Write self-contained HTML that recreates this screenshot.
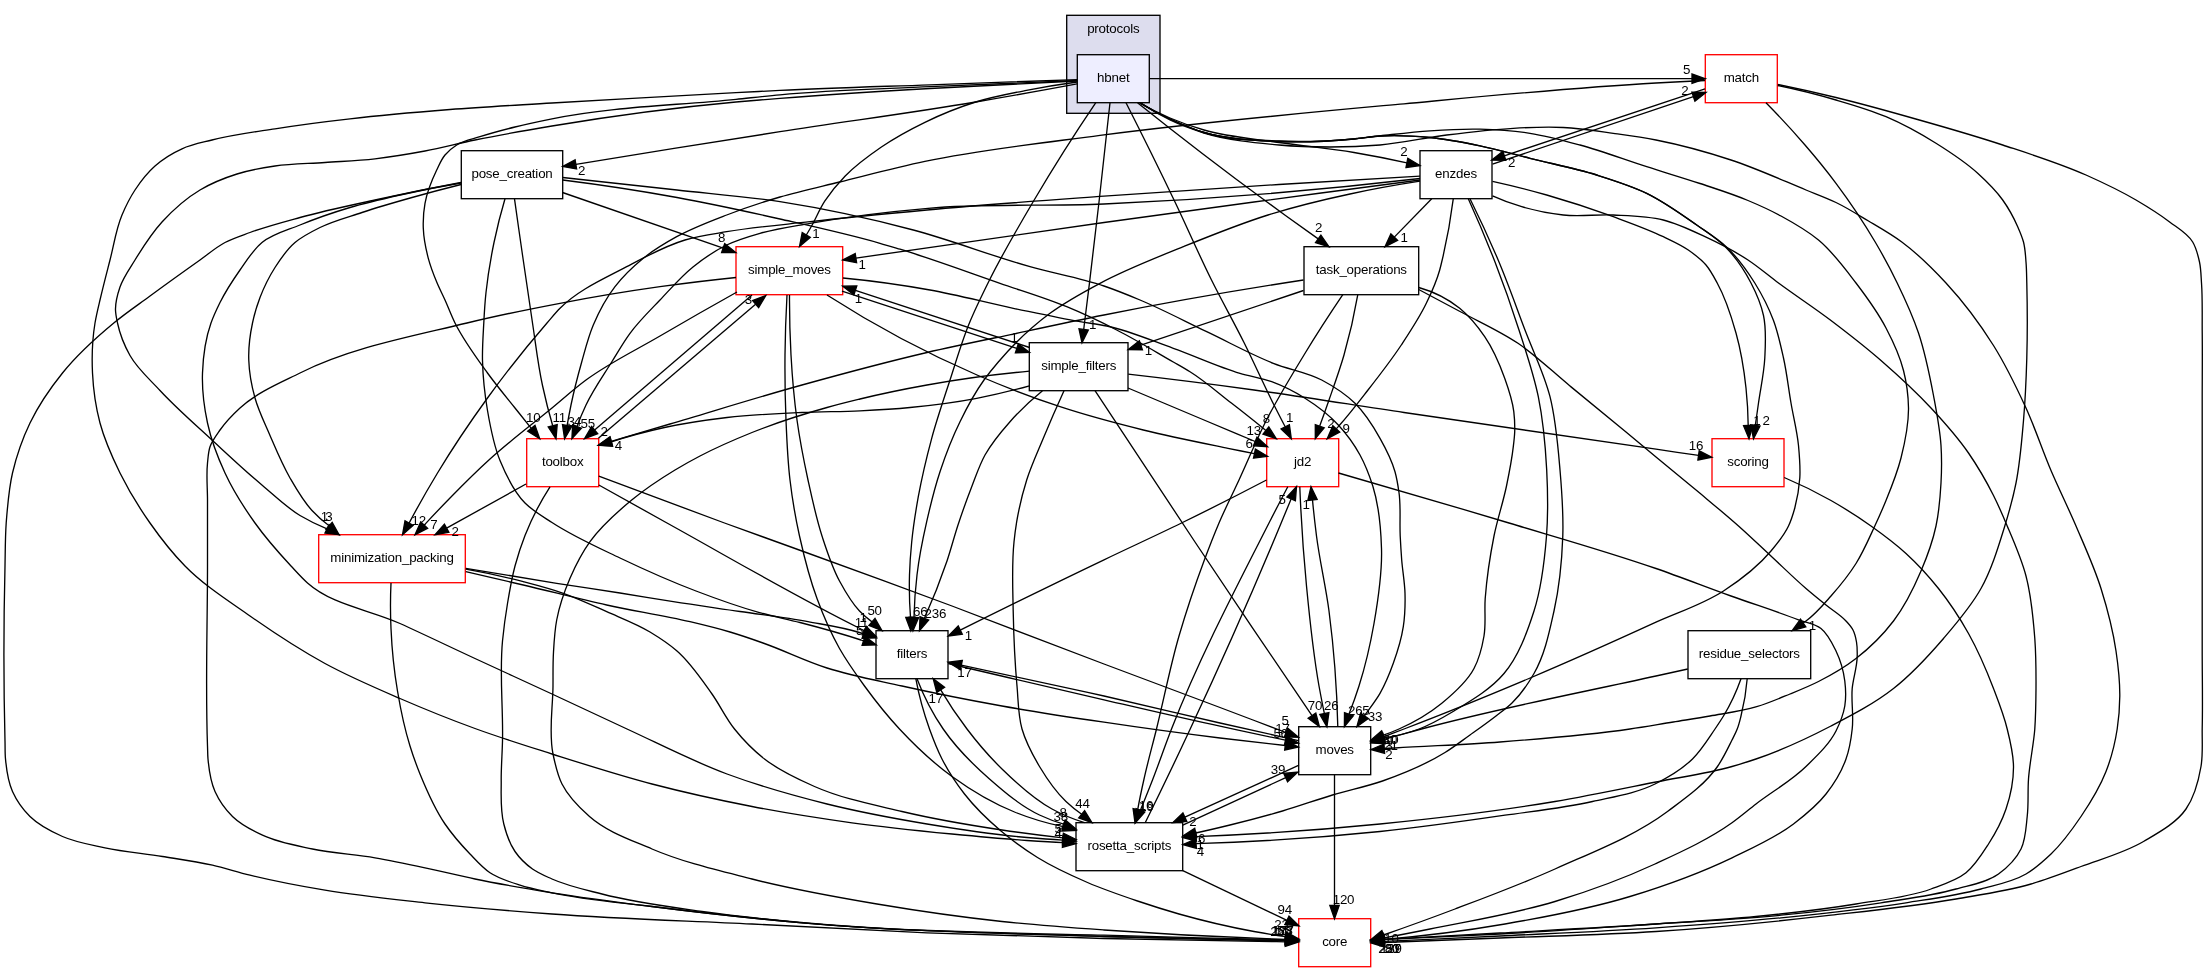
<!DOCTYPE html>
<html><head><meta charset="utf-8"><title>protocols/hbnet directory dependency graph</title>
<style>
html,body{margin:0;padding:0;background:#fff;}
body{width:2208px;height:972px;overflow:hidden;}
svg{display:block;will-change:transform;}
.t{font-family:"Liberation Sans",sans-serif;font-size:13.33px;letter-spacing:-0.2px;text-anchor:middle;fill:#000;}
</style></head><body>
<svg width="2208" height="972" viewBox="0 0 2208 972">
<rect x="1066.7" y="15.3" width="93.3" height="98.0" fill="#ddddee" stroke="black" stroke-width="1.33"/>
<text x="1113.3" y="33.3" class="t">protocols</text>
<rect x="1077.3" y="54.7" width="72.0" height="48.0" fill="#eeeeff" stroke="black" stroke-width="1.33"/>
<text x="1113.3" y="82.0" class="t">hbnet</text>
<rect x="1705.3" y="54.7" width="72.0" height="48.0" fill="white" stroke="red" stroke-width="1.33"/>
<text x="1741.3" y="82.0" class="t">match</text>
<rect x="461.3" y="150.7" width="101.4" height="48.0" fill="white" stroke="black" stroke-width="1.33"/>
<text x="512.0" y="178.0" class="t">pose_creation</text>
<rect x="1420.0" y="150.7" width="72.0" height="48.0" fill="white" stroke="black" stroke-width="1.33"/>
<text x="1456.0" y="178.0" class="t">enzdes</text>
<rect x="736.0" y="246.7" width="106.7" height="48.0" fill="white" stroke="red" stroke-width="1.33"/>
<text x="789.4" y="274.0" class="t">simple_moves</text>
<rect x="1304.0" y="246.7" width="114.7" height="48.0" fill="white" stroke="black" stroke-width="1.33"/>
<text x="1361.3" y="274.0" class="t">task_operations</text>
<rect x="1029.3" y="342.7" width="98.7" height="48.0" fill="white" stroke="black" stroke-width="1.33"/>
<text x="1078.7" y="370.0" class="t">simple_filters</text>
<rect x="526.7" y="438.7" width="72.0" height="48.0" fill="white" stroke="red" stroke-width="1.33"/>
<text x="562.7" y="466.0" class="t">toolbox</text>
<rect x="1266.7" y="438.7" width="72.0" height="48.0" fill="white" stroke="red" stroke-width="1.33"/>
<text x="1302.7" y="466.0" class="t">jd2</text>
<rect x="1712.0" y="438.7" width="72.0" height="48.0" fill="white" stroke="red" stroke-width="1.33"/>
<text x="1748.0" y="466.0" class="t">scoring</text>
<rect x="318.7" y="534.7" width="146.6" height="48.0" fill="white" stroke="red" stroke-width="1.33"/>
<text x="392.0" y="562.0" class="t">minimization_packing</text>
<rect x="876.0" y="630.7" width="72.0" height="48.0" fill="white" stroke="black" stroke-width="1.33"/>
<text x="912.0" y="658.0" class="t">filters</text>
<rect x="1688.0" y="630.7" width="122.7" height="48.0" fill="white" stroke="black" stroke-width="1.33"/>
<text x="1749.3" y="658.0" class="t">residue_selectors</text>
<rect x="1298.7" y="726.7" width="72.0" height="48.0" fill="white" stroke="black" stroke-width="1.33"/>
<text x="1334.7" y="754.0" class="t">moves</text>
<rect x="1076.0" y="822.7" width="106.7" height="48.0" fill="white" stroke="black" stroke-width="1.33"/>
<text x="1129.3" y="850.0" class="t">rosetta_scripts</text>
<rect x="1298.7" y="918.7" width="72.0" height="48.0" fill="white" stroke="red" stroke-width="1.33"/>
<text x="1334.7" y="946.0" class="t">core</text>
<g fill="none" stroke="black" stroke-width="1.33">
<path d="M1077.0,79.6C1028.0,81.3 979.0,83.0 930.0,84.8C880.0,86.6 830.0,88.0 780.0,90.4C765.3,91.1 750.7,91.9 736.0,92.7C674.7,96.0 613.3,99.3 552.0,103.0C518.0,105.1 484.0,106.8 450.0,109.5C416.6,112.1 383.2,114.9 350.0,118.8C325.0,121.6 299.9,124.8 275.0,128.8C253.9,132.1 232.6,134.8 212.0,140.0C201.9,142.6 191.4,144.5 182.0,148.8C172.4,153.1 162.9,159.0 155.0,166.0C147.3,172.8 140.7,181.3 135.0,190.0C129.9,197.8 125.6,206.4 122.0,215.0C116.0,229.2 113.9,245.0 110.0,260.0C106.6,273.3 103.1,286.6 100.0,300.0C98.2,307.6 96.3,315.3 95.0,323.0C92.3,339.4 91.7,356.4 92.5,373.0C93.3,389.7 95.7,406.8 100.0,423.0C104.6,440.2 112.1,456.9 120.0,473.0C128.6,490.4 138.8,507.1 150.0,523.0C160.6,538.1 172.1,552.9 185.0,566.0C204.0,585.4 227.6,600.3 250.0,616.0C274.2,633.0 299.1,649.4 325.0,663.5C349.2,676.7 374.7,687.6 400.0,698.5C424.7,709.2 449.7,719.3 475.0,728.5C500.4,737.8 526.2,745.8 552.0,754.0C585.2,764.5 618.4,775.2 652.0,784.0C685.0,792.6 718.5,800.0 752.0,806.5C785.1,812.9 818.6,818.2 852.0,822.8C885.2,827.3 918.6,830.7 952.0,834.0C977.0,836.4 1002.0,838.8 1027.0,840.5C1038.9,841.3 1050.8,842.1 1062.7,842.7"/>
<path d="M1077.0,81.0C1028.0,83.1 979.0,85.6 930.0,88.5C880.0,91.4 830.0,94.5 780.0,98.4C765.3,99.5 750.7,100.7 736.0,102.0C674.4,107.6 613.0,115.8 552.0,126.0C526.3,130.3 500.6,134.8 475.0,140.0C458.3,143.4 441.8,147.9 425.0,151.0C408.4,154.1 391.7,156.8 375.0,158.8C358.4,160.7 341.7,161.3 325.0,162.5C308.3,163.7 291.5,163.6 275.0,166.0C262.2,167.9 249.3,170.1 237.0,174.0C224.3,178.0 211.4,183.2 200.0,190.0C185.9,198.4 173.1,209.9 162.0,222.0C151.6,233.4 143.1,246.8 135.0,260.0C129.6,268.8 123.3,277.4 120.0,287.0C117.5,294.3 115.3,302.3 115.5,310.0C115.6,314.3 116.6,318.7 117.5,323.0C119.9,334.3 124.4,345.5 130.0,355.5C137.4,368.7 149.6,379.2 160.0,390.5C176.4,408.2 194.8,424.1 212.5,440.5C229.0,455.7 245.3,471.1 262.5,485.5C274.7,495.8 286.4,507.3 300.0,515.5C308.6,520.6 317.6,525.1 327.0,528.8"/>
<path d="M1077.0,80.5C1028.0,82.3 979.0,84.3 930.0,86.7C880.0,89.1 829.9,90.3 780.0,94.8C765.3,96.1 750.7,97.8 736.0,99.3C674.6,105.6 612.4,106.5 552.0,118.8C539.6,121.3 527.3,123.9 515.0,127.0C503.3,129.9 491.5,133.0 480.0,136.7C472.2,139.2 463.5,140.6 456.7,145.0C452.4,147.7 448.2,151.1 445.0,155.0C441.4,159.3 439.2,164.9 436.7,170.0C431.6,180.6 427.1,191.8 425.0,203.3C423.5,211.4 423.0,220.0 423.3,228.3C423.7,238.4 425.7,248.5 428.3,258.3C430.5,266.4 433.5,274.3 436.7,282.0C439.2,288.1 442.3,294.0 445.0,300.0C448.4,307.6 451.3,315.5 455.0,323.0C463.8,340.8 475.8,356.9 487.5,373.0C496.2,385.0 505.7,396.4 515.0,408.0C520.4,414.8 525.9,421.6 531.3,428.3"/>
<path d="M1077.0,83.9C1043.3,90.2 1009.5,96.3 975.7,102.0C910.7,113.0 845.2,121.5 780.0,131.7C711.9,142.3 643.9,153.2 575.9,164.4"/>
<path d="M1077.0,82.0C1060.0,84.3 1043.2,87.1 1026.4,90.4C1009.4,93.7 992.2,96.9 975.7,102.0C958.3,107.4 941.3,114.4 924.9,122.3C909.9,129.6 895.1,137.6 881.4,147.0C868.7,155.7 855.9,165.0 845.2,176.0C837.8,183.6 830.8,192.0 824.9,200.9C819.5,209.1 815.9,218.5 811.0,227.0C809.5,229.7 807.9,232.4 806.3,235.0"/>
<path d="M1095.8,102.7C1073.8,135.2 1052.9,168.3 1033.0,202.0C1017.9,227.6 1002.8,253.4 989.5,280.0C982.3,294.5 975.1,309.0 969.0,324.0C961.6,342.2 956.1,361.3 950.0,380.0C943.7,399.4 937.0,418.7 931.7,438.3C926.5,457.6 921.9,477.1 918.3,496.7C915.6,511.7 913.2,526.8 911.7,542.0C910.6,553.0 909.8,564.0 909.5,575.0C909.1,589.1 909.4,603.2 910.5,617.4"/>
<path d="M1110.0,102.7C1106.5,135.8 1102.8,168.9 1099.0,202.0C1094.4,242.4 1089.6,282.7 1084.5,323.0C1084.2,325.2 1084.0,327.3 1083.7,329.5"/>
<path d="M1126.0,102.7C1142.7,135.6 1159.1,168.7 1175.0,202.0C1187.4,227.9 1198.7,254.3 1211.5,280.0C1221.9,301.0 1233.5,321.5 1244.0,342.5C1254.3,363.2 1263.6,384.4 1274.0,405.0C1277.7,412.3 1281.4,419.6 1285.2,426.8"/>
<path d="M1137.5,102.7C1180.0,136.7 1223.1,169.8 1267.0,202.0C1284.0,214.4 1301.0,226.7 1318.2,238.9"/>
<path d="M1149.3,78.7L1692.0,78.7"/>
<path d="M1139.0,102.5C1149.1,108.3 1159.4,113.5 1170.0,118.0C1181.0,122.7 1192.5,126.7 1204.0,130.0C1228.3,137.1 1253.9,138.7 1279.0,142.5C1303.9,146.2 1329.1,148.3 1354.0,152.5C1371.7,155.5 1389.4,159.0 1406.9,162.9"/>
<path d="M1141.0,103.0C1150.3,109.5 1159.9,115.1 1170.0,120.0C1180.9,125.3 1192.5,129.4 1204.0,133.0C1228.1,140.4 1253.8,142.8 1279.0,145.0C1295.9,146.5 1313.0,147.0 1330.0,147.0C1346.7,147.0 1363.4,146.4 1380.0,145.0C1402.4,143.1 1424.4,137.8 1446.7,135.0C1468.8,132.2 1491.0,129.5 1513.3,128.3C1529.9,127.4 1546.7,126.7 1563.3,127.5C1580.0,128.3 1596.7,131.0 1613.3,133.3C1627.6,135.3 1641.9,137.2 1656.0,140.0C1681.4,145.0 1706.5,151.9 1731.0,160.0C1756.5,168.4 1781.1,179.7 1806.0,190.0C1816.0,194.1 1826.3,197.8 1836.0,202.5C1847.2,207.9 1857.8,214.6 1868.5,221.0C1879.8,227.7 1891.3,234.2 1901.8,242.0C1917.9,253.9 1932.4,268.3 1946.0,283.0C1963.7,302.1 1979.6,323.4 1993.5,345.5C2005.9,365.3 2016.2,386.7 2026.0,408.0C2035.3,428.4 2042.2,449.9 2051.0,470.5C2059.0,489.2 2068.0,507.3 2076.0,526.0C2084.8,546.6 2094.3,567.2 2101.0,588.5C2107.4,608.9 2112.9,629.9 2116.0,651.0C2118.2,665.8 2119.9,681.0 2119.8,696.0C2119.7,707.0 2118.9,718.1 2117.2,729.0C2115.0,743.4 2111.3,758.0 2106.0,771.5C2099.8,787.4 2090.6,802.3 2081.0,816.5C2072.1,829.7 2062.5,843.0 2051.0,854.0C2043.3,861.3 2035.1,868.7 2026.0,874.0C2012.6,881.9 1996.2,884.8 1981.0,889.0C1956.5,895.7 1931.1,898.8 1906.0,902.8C1864.6,909.3 1822.7,913.6 1781.0,917.8C1739.4,921.9 1697.7,924.9 1656.0,927.8C1604.1,931.3 1552.0,933.4 1500.0,936.0C1461.4,937.9 1422.9,939.7 1384.3,941.4"/>
<path d="M1140.0,103.0C1149.7,108.9 1159.7,114.2 1170.0,119.0C1181.0,124.1 1192.4,129.0 1204.0,132.5C1227.9,139.7 1253.9,140.0 1279.0,141.0C1303.9,142.0 1329.1,141.0 1354.0,138.8C1362.7,138.0 1371.3,136.7 1380.0,135.8C1396.7,134.0 1413.3,131.9 1430.0,130.8C1446.6,129.7 1463.4,128.8 1480.0,129.2C1496.7,129.6 1513.5,130.7 1530.0,133.3C1546.9,135.9 1563.5,140.5 1580.0,145.0C1602.5,151.1 1624.4,159.6 1646.7,166.7C1664.4,172.4 1682.3,177.6 1700.0,183.5C1716.1,188.9 1732.4,193.9 1748.0,200.5C1759.2,205.2 1770.3,210.2 1781.0,216.0C1794.0,223.1 1807.2,230.6 1818.5,240.0C1833.0,252.0 1844.5,267.9 1856.0,283.0C1866.9,297.3 1877.7,312.1 1886.0,328.0C1893.1,341.5 1899.8,355.8 1903.5,370.5C1906.6,382.6 1908.3,395.5 1908.5,408.0C1908.7,424.7 1905.1,441.7 1901.0,458.0C1897.3,472.5 1891.7,486.6 1886.0,500.5C1882.5,509.1 1878.7,517.6 1874.8,526.0C1868.9,538.7 1863.4,551.7 1856.0,563.5C1848.8,575.0 1840.0,585.8 1831.0,596.0C1823.2,604.8 1815.5,614.1 1806.0,621.0C1805.1,621.7 1804.1,622.4 1803.1,623.0"/>
<path d="M1140.0,103.0C1149.7,108.9 1159.7,114.2 1170.0,119.0C1181.0,124.1 1192.4,129.0 1204.0,132.5C1227.9,139.7 1253.9,140.4 1279.0,141.5C1303.9,142.6 1329.1,141.3 1354.0,139.0C1362.7,138.2 1371.3,136.6 1380.0,136.0C1396.6,134.9 1413.4,135.9 1430.0,137.5C1446.8,139.1 1463.5,142.4 1480.0,145.8C1496.8,149.3 1513.3,154.1 1530.0,158.3C1552.2,163.9 1574.9,168.1 1596.7,175.0C1613.6,180.3 1630.8,185.6 1646.7,193.3C1664.3,201.9 1680.7,213.5 1696.7,225.0C1706.7,232.2 1717.5,238.8 1726.0,247.5C1736.0,257.7 1744.4,270.2 1751.0,283.0C1756.3,293.2 1761.1,304.3 1763.5,315.5C1766.5,329.2 1765.5,343.9 1764.8,358.0C1764.0,373.1 1760.6,388.0 1758.5,403.0C1757.5,410.5 1756.4,418.0 1755.3,425.5"/>
<path d="M1140.0,103.0C1149.7,108.9 1159.7,114.2 1170.0,119.0C1181.0,124.1 1192.4,129.0 1204.0,132.5C1227.9,139.7 1253.9,140.4 1279.0,141.5C1303.9,142.6 1329.1,141.3 1354.0,139.0C1362.7,138.2 1371.3,136.6 1380.0,136.0C1396.6,134.9 1413.4,135.9 1430.0,137.5C1446.8,139.1 1463.5,142.4 1480.0,145.8C1496.8,149.3 1513.3,154.1 1530.0,158.3C1552.2,163.9 1574.9,168.1 1596.7,175.0C1613.6,180.3 1630.8,185.6 1646.7,193.3C1664.3,201.9 1680.5,213.7 1696.7,225.0C1707.0,232.2 1718.0,238.9 1727.0,247.5C1737.8,257.8 1746.8,270.3 1754.8,283.0C1762.1,294.8 1768.6,307.5 1773.5,320.5C1778.0,332.6 1780.7,345.4 1783.5,358.0C1786.8,372.8 1788.4,388.0 1791.0,403.0C1793.4,417.2 1797.1,431.2 1798.5,445.5C1799.5,456.3 1800.5,467.2 1799.8,478.0C1799.1,488.1 1797.4,498.3 1794.8,508.0C1793.1,514.1 1791.2,520.3 1788.5,526.0C1784.2,535.1 1777.5,543.3 1771.0,551.0C1757.8,566.8 1740.7,579.8 1723.5,591.0C1702.9,604.4 1678.6,612.0 1656.0,622.2C1613.9,641.5 1571.6,660.5 1529.0,678.5C1487.6,696.0 1446.0,713.0 1404.0,729.0C1397.2,731.6 1390.3,734.2 1383.5,736.8"/>
<path d="M1705.0,80.5C1688.7,81.3 1672.3,82.1 1656.0,83.0C1571.9,87.7 1487.9,96.0 1404.0,103.8C1302.6,113.1 1201.0,122.1 1100.0,135.4C1041.5,143.1 982.6,149.3 924.9,161.4C896.3,167.4 867.9,175.0 839.5,182.0C819.6,186.9 799.6,191.2 780.0,197.0C762.0,202.3 744.2,208.3 726.7,215.0C709.8,221.5 692.6,227.9 676.7,236.7C665.1,243.1 653.5,250.0 643.3,258.3C633.0,266.7 623.1,276.2 615.0,286.7C606.1,298.2 599.0,311.6 593.3,325.0C588.3,336.8 585.2,349.6 581.7,362.0C577.7,376.2 574.0,390.5 571.0,405.0C569.6,411.8 568.3,418.7 567.1,425.6"/>
<path d="M1705.0,88.8L1504.3,155.8"/>
<path d="M1777.8,85.5C1797.4,89.5 1816.8,94.4 1836.0,100.0C1852.8,104.9 1869.9,109.8 1886.0,116.7C1903.3,124.1 1920.0,133.3 1936.0,143.3C1950.5,152.4 1965.1,161.8 1977.7,173.3C1986.7,181.5 1995.7,190.2 2002.7,200.0C2008.6,208.2 2013.6,217.4 2017.7,226.7C2019.9,231.7 2022.1,236.8 2023.5,242.0C2025.2,248.5 2025.5,255.3 2026.0,262.0C2026.6,269.0 2026.6,276.0 2026.8,283.0C2027.4,308.0 2027.5,333.0 2026.8,358.0C2026.2,378.8 2025.3,399.7 2023.5,420.5C2021.7,441.4 2020.1,462.5 2016.0,483.0C2013.1,497.5 2009.1,511.9 2004.8,526.0C1998.2,547.3 1991.7,569.2 1981.0,588.5C1971.0,606.5 1957.0,622.7 1943.5,638.5C1928.2,656.3 1911.9,674.1 1893.5,688.5C1874.5,703.4 1852.5,714.8 1831.0,726.0C1806.8,738.6 1781.8,750.2 1756.0,759.0C1748.1,761.7 1740.1,764.2 1732.0,766.5C1707.2,773.6 1681.4,776.9 1656.0,782.0C1622.4,788.7 1588.8,795.8 1555.0,801.5C1497.0,811.3 1438.5,818.2 1380.0,824.0C1318.9,830.1 1257.5,834.3 1196.0,836.6"/>
<path d="M1777.8,84.5C1797.3,88.5 1816.7,92.8 1836.0,97.5C1863.9,104.3 1891.6,112.1 1919.3,120.0C1947.2,127.9 1975.1,135.9 2002.7,145.0C2030.7,154.2 2059.1,163.0 2086.0,175.0C2103.0,182.6 2119.9,190.6 2136.0,200.0C2147.4,206.7 2158.8,213.7 2169.3,221.7C2177.5,228.0 2187.6,233.4 2192.7,242.0C2196.2,247.8 2198.0,255.2 2199.5,262.0C2201.0,268.8 2201.0,276.0 2201.5,283.0C2202.6,298.6 2202.1,314.3 2202.2,330.0C2202.5,353.3 2202.2,376.7 2202.2,400.0C2202.2,442.0 2202.2,484.0 2202.2,526.0C2202.2,567.3 2202.2,608.7 2202.2,650.0C2202.2,676.3 2202.8,702.7 2202.2,729.0C2202.0,741.5 2203.1,754.3 2201.0,766.5C2198.5,781.1 2194.2,797.1 2186.0,809.0C2176.3,823.1 2158.7,832.5 2143.5,841.5C2124.3,852.8 2102.0,858.7 2081.0,866.5C2064.5,872.7 2047.9,879.1 2031.0,884.0C2006.6,891.0 1981.1,894.6 1956.0,899.0C1914.6,906.2 1872.7,910.5 1831.0,915.2C1772.8,921.9 1714.4,927.7 1656.0,931.5C1604.1,934.9 1552.0,935.9 1500.0,938.0C1461.4,939.5 1422.9,941.0 1384.3,942.5"/>
<path d="M1766.0,102.7C1779.5,116.4 1792.5,130.5 1805.0,145.0C1815.7,157.4 1826.2,170.2 1836.0,183.3C1850.1,202.1 1863.3,221.7 1875.2,242.0C1883.1,255.4 1890.5,269.0 1897.2,283.0C1905.1,299.3 1912.7,315.9 1918.5,333.0C1925.3,353.2 1929.5,374.5 1933.5,395.5C1936.6,412.0 1939.9,428.7 1941.0,445.5C1941.8,457.9 1941.7,470.5 1941.0,483.0C1940.2,497.4 1939.0,512.0 1936.0,526.0C1932.7,541.4 1927.2,556.5 1921.0,571.0C1913.6,588.4 1904.9,606.0 1893.5,621.0C1882.9,634.9 1869.9,647.8 1856.0,658.5C1844.5,667.4 1831.5,674.9 1818.5,681.5C1809.3,686.2 1799.6,690.1 1790.0,694.0C1779.0,698.5 1768.0,703.3 1756.7,706.7C1741.6,711.3 1725.6,713.2 1710.0,716.0C1697.8,718.2 1685.5,720.0 1673.3,722.0C1658.9,724.3 1644.5,726.9 1630.0,729.0C1586.9,735.3 1543.4,738.7 1500.0,742.0C1465.1,744.7 1430.0,745.8 1395.0,748.0C1391.4,748.2 1387.9,748.4 1384.3,748.7"/>
<path d="M1492.5,164.2L1693.4,96.7"/>
<path d="M1420.0,176.2C1314.6,182.0 1209.3,188.6 1104.0,196.2C1045.0,200.5 985.9,204.6 927.0,210.0C888.0,213.6 849.0,217.3 810.0,221.7C782.2,224.8 754.2,227.0 726.7,231.7C712.7,234.1 698.5,236.0 685.0,240.0C664.6,246.1 645.6,256.7 626.7,266.7C603.6,278.9 578.3,289.8 560.0,308.3C555.4,312.9 551.3,318.1 547.0,323.0C526.1,347.1 506.2,372.2 487.5,398.0C469.9,422.3 453.0,447.3 437.5,473.0C427.6,489.4 418.1,506.1 409.1,523.1"/>
<path d="M1420.0,178.5C1314.9,190.8 1209.5,199.3 1104.0,204.0C1045.4,206.6 986.4,203.3 928.0,208.3C888.5,211.7 849.0,216.4 810.0,223.3C793.3,226.3 776.3,228.6 760.0,233.3C748.7,236.5 737.2,239.9 726.7,245.0C714.8,250.7 703.6,258.5 693.3,266.7C681.1,276.4 670.8,288.6 660.0,300.0C649.7,310.8 638.9,321.3 630.0,333.3C623.3,342.4 617.7,352.4 611.7,362.0C602.9,376.2 593.1,389.9 586.0,405.0C582.7,412.0 579.7,419.1 577.0,426.4"/>
<path d="M1420.0,180.0C1364.7,187.2 1309.3,194.5 1254.0,202.0C1204.0,208.7 1154.0,215.5 1104.0,222.5C1021.2,234.0 938.5,245.9 855.9,258.1"/>
<path d="M1420.0,181.2C1396.5,184.8 1373.2,189.0 1350.0,194.0C1322.4,199.9 1294.9,206.6 1268.0,215.0C1239.3,224.0 1211.2,235.4 1183.3,246.7C1155.2,258.1 1126.7,269.0 1100.0,283.3C1082.9,292.4 1065.5,301.8 1050.0,313.3C1031.1,327.3 1013.6,344.0 998.3,362.0C993.3,367.8 988.5,373.8 984.0,380.0C974.7,393.0 967.0,407.3 960.0,421.7C952.1,437.8 945.6,454.7 940.0,471.7C934.6,488.0 930.5,504.9 926.7,521.7C922.7,539.3 919.1,557.1 917.0,575.0C915.3,589.1 914.3,603.2 914.0,617.4"/>
<path d="M1431.7,198.7L1394.3,237.1"/>
<path d="M1453.3,198.7C1450.6,220.1 1446.8,241.2 1441.7,262.0C1441.1,264.7 1440.4,267.4 1439.7,270.0C1436.5,281.5 1431.5,292.6 1426.3,303.3C1419.3,317.9 1410.2,331.5 1401.3,345.0C1391.0,360.5 1379.5,375.3 1368.0,390.0C1358.8,401.8 1349.7,413.8 1339.7,425.0C1338.5,426.3 1337.4,427.6 1336.2,428.8"/>
<path d="M1468.3,198.7C1477.8,219.6 1486.7,240.7 1495.0,262.0C1503.7,284.4 1511.7,307.1 1519.0,330.0C1526.1,352.0 1533.7,374.1 1538.3,396.7C1543.2,420.7 1545.4,445.5 1546.7,470.0C1547.8,491.9 1548.2,514.1 1546.5,536.0C1544.5,561.2 1541.7,587.1 1534.0,611.0C1527.0,632.8 1518.5,656.3 1504.0,673.5C1491.0,689.0 1471.8,700.3 1454.0,711.0C1442.8,717.7 1431.2,724.5 1419.0,729.0C1407.8,733.2 1396.1,736.1 1383.9,737.8"/>
<path d="M1470.0,198.7C1480.3,219.5 1490.0,240.6 1499.0,262.0C1508.4,284.4 1516.4,307.3 1525.0,330.0C1533.4,352.2 1544.2,373.8 1550.0,396.7C1556.0,420.4 1557.9,445.5 1560.0,470.0C1561.9,491.9 1563.5,514.1 1562.8,536.0C1561.9,561.1 1559.5,586.5 1554.0,611.0C1549.3,632.2 1544.8,654.8 1534.0,673.5C1528.0,684.0 1520.7,694.5 1512.0,703.0C1507.1,707.8 1501.4,711.8 1496.0,716.0C1487.5,722.6 1478.7,728.8 1470.0,735.0C1461.7,740.9 1453.6,747.2 1445.0,752.5C1425.6,764.5 1404.0,773.4 1382.5,781.0C1366.2,786.7 1349.1,790.0 1332.5,795.0C1315.7,800.0 1299.3,806.1 1282.5,811.0C1265.1,816.1 1247.6,820.7 1230.0,825.0C1218.6,827.8 1207.2,830.5 1195.7,833.0"/>
<path d="M1492.5,181.3C1510.7,185.3 1528.8,189.9 1546.7,195.0C1569.1,201.4 1591.4,208.7 1613.3,216.7C1630.1,222.9 1647.2,228.9 1663.3,236.7C1671.8,240.8 1680.6,244.6 1688.3,250.0C1694.6,254.4 1701.0,259.2 1706.0,265.0C1710.5,270.3 1713.9,276.8 1717.2,283.0C1725.8,298.5 1731.2,315.9 1736.0,333.0C1741.0,350.9 1744.0,369.5 1746.0,388.0C1747.3,400.4 1748.1,412.9 1748.2,425.4"/>
<path d="M1492.5,195.8C1502.0,200.1 1511.8,203.7 1521.7,206.7C1535.2,210.7 1549.3,213.5 1563.3,215.0C1579.8,216.8 1596.7,214.2 1613.3,215.0C1630.0,215.8 1647.2,215.9 1663.3,220.0C1677.7,223.6 1691.5,230.4 1705.0,236.7C1719.8,243.6 1734.4,251.1 1748.0,260.0C1758.6,267.0 1768.3,275.4 1778.5,283.0C1795.8,295.8 1813.9,307.5 1831.0,320.5C1848.0,333.4 1864.9,346.5 1881.0,360.5C1898.3,375.6 1915.4,391.2 1931.0,408.0C1944.3,422.3 1957.4,437.0 1968.5,453.0C1977.8,466.5 1986.1,480.8 1993.5,495.5C1998.5,505.4 2002.9,515.7 2007.2,526.0C2014.2,542.4 2021.5,558.9 2026.0,576.0C2031.3,596.2 2033.2,617.6 2034.8,638.5C2036.0,655.1 2036.1,671.8 2036.0,688.5C2035.9,702.0 2035.7,715.5 2034.8,729.0C2033.5,745.7 2029.7,762.3 2028.5,779.0C2027.6,791.5 2028.7,804.1 2027.2,816.5C2026.0,827.4 2025.7,839.5 2021.0,849.0C2016.2,858.7 2007.3,867.6 1998.5,874.0C1986.7,882.5 1970.4,884.9 1956.0,889.0C1931.6,896.0 1906.1,898.8 1881.0,902.8C1847.8,908.0 1814.4,911.9 1781.0,915.2C1739.5,919.4 1697.7,921.2 1656.0,924.0C1604.0,927.5 1552.0,931.2 1500.0,934.0C1461.5,936.1 1422.9,937.9 1384.3,939.4"/>
<path d="M461.0,182.5C432.2,187.9 403.6,193.7 375.0,200.0C349.9,205.5 324.8,210.7 300.0,217.5C283.2,222.1 266.3,226.5 250.0,232.5C241.6,235.6 232.9,238.3 225.0,242.5C216.1,247.2 208.3,254.1 200.0,260.0C183.2,271.9 166.6,283.8 150.0,296.0C137.9,304.9 125.3,313.4 113.8,323.0C95.4,338.2 77.4,354.5 62.5,373.0C50.1,388.4 38.6,405.2 30.0,423.0C22.4,438.8 16.5,455.9 12.5,473.0C8.7,489.3 7.5,506.3 6.2,523.0C5.2,537.3 5.3,551.7 5.0,566.0C3.6,624.3 3.5,682.7 5.0,741.0C5.2,747.0 4.9,753.0 5.5,759.0C6.5,770.0 8.1,781.6 12.5,791.5C16.6,800.6 22.9,809.5 30.0,816.5C38.9,825.3 51.0,831.4 62.5,836.5C75.8,842.4 90.7,844.7 105.0,847.8C123.9,851.8 143.4,853.4 162.5,856.5C179.2,859.2 196.0,861.5 212.5,865.2C225.1,868.1 237.4,872.2 250.0,875.2C274.8,881.3 299.9,886.0 325.0,890.2C358.1,895.8 391.6,899.1 425.0,902.8C467.2,907.3 509.6,910.9 552.0,914.0C618.6,918.9 685.3,920.7 752.0,924.0C810.3,926.9 868.6,930.3 927.0,932.8C986.0,935.2 1045.0,937.0 1104.0,938.5C1164.4,940.0 1224.9,941.1 1285.4,941.8"/>
<path d="M461.0,183.0C440.5,186.4 420.2,190.4 400.0,195.0C383.2,198.8 366.4,202.6 350.0,207.5C333.1,212.5 316.3,218.3 300.0,225.0C287.1,230.3 272.5,233.9 262.0,242.5C253.1,249.7 246.8,260.4 240.0,270.0C232.7,280.4 225.7,291.2 220.0,302.5C216.7,309.2 213.5,316.0 211.0,323.0C205.4,338.8 203.1,356.3 202.5,373.0C201.9,389.6 204.0,406.8 207.5,423.0C211.2,440.1 217.6,457.1 225.0,473.0C233.1,490.5 243.7,507.2 255.0,523.0C265.8,538.2 278.3,552.3 291.0,566.0C296.4,571.8 301.7,577.8 307.5,583.0C332.3,605.1 369.3,609.6 400.0,623.5C425.1,634.9 450.0,646.9 475.0,658.5C500.6,670.4 526.4,682.1 552.0,694.0C577.0,705.6 601.9,717.5 627.0,729.0C660.2,744.3 692.8,761.3 727.0,774.0C759.6,786.1 793.3,795.6 827.0,804.0C860.0,812.2 893.5,818.4 927.0,824.0C960.2,829.5 993.5,834.6 1027.0,837.5C1038.9,838.5 1050.8,839.4 1062.7,840.1"/>
<path d="M461.0,184.5C444.6,188.6 428.3,192.9 412.0,197.5C395.3,202.2 378.5,207.0 362.0,212.5C347.9,217.2 333.2,220.9 320.0,227.5C311.3,231.8 302.3,236.3 295.0,242.5C287.0,249.3 280.7,258.6 275.0,267.5C269.0,276.9 264.0,287.1 260.0,297.5C256.9,305.7 254.3,314.4 252.5,323.0C249.9,335.2 248.3,348.1 248.8,360.5C249.2,373.1 251.6,385.9 255.0,398.0C258.6,410.9 264.7,423.1 270.0,435.5C276.2,449.9 282.2,464.5 290.0,478.0C296.5,489.3 303.1,501.0 312.0,510.5C317.2,516.1 322.9,521.2 329.1,525.8"/>
<path d="M505.0,198.8C500.7,213.2 497.1,227.8 494.0,242.5C490.6,259.0 487.8,275.7 486.0,292.5C484.9,302.6 484.3,312.8 483.8,323.0C483.1,335.5 482.2,348.0 482.5,360.5C482.9,377.2 484.7,394.0 487.5,410.5C490.4,427.4 493.5,444.8 500.0,460.5C506.2,475.5 513.7,491.5 525.0,503.0C532.6,510.7 542.7,516.4 552.0,522.5C573.3,536.5 597.0,547.0 620.0,558.0C644.9,569.9 670.2,581.2 696.0,591.0C716.9,599.0 738.0,606.6 759.5,612.6C772.9,616.4 786.6,619.0 800.0,622.5C820.5,627.8 840.9,633.4 861.0,640.0C861.8,640.3 862.7,640.6 863.5,640.8"/>
<path d="M514.5,198.8C517.1,217.5 519.8,236.3 522.5,255.0C525.8,277.7 529.0,300.4 532.5,323.0C535.7,343.9 538.0,364.9 542.5,385.5C545.4,399.0 548.8,412.5 552.7,425.8"/>
<path d="M562.5,192.5L723.2,248.1"/>
<path d="M562.7,180.0C601.0,184.8 639.1,190.6 677.0,197.5C711.5,203.8 745.8,211.3 780.0,219.0C813.5,226.6 847.0,233.9 880.0,243.3C886.7,245.2 893.3,247.2 900.0,249.2C933.7,259.4 966.7,271.8 1000.0,283.3C1022.3,291.0 1045.0,297.7 1066.7,306.7C1083.7,313.7 1100.3,321.6 1116.7,330.0C1136.0,339.8 1154.5,351.2 1173.3,362.0C1178.9,365.2 1184.6,368.3 1190.0,371.7C1204.8,380.9 1217.9,392.6 1231.7,403.3C1243.2,412.2 1254.6,421.3 1265.9,430.4"/>
<path d="M562.7,177.5C600.8,181.6 638.9,185.7 677.0,190.0C711.3,193.8 745.9,196.4 780.0,201.7C824.8,208.7 869.4,218.4 913.3,230.0C952.7,240.5 990.8,255.7 1030.0,266.7C1054.5,273.6 1079.9,277.7 1104.0,286.0C1116.2,290.2 1128.1,295.0 1140.0,300.0C1162.7,309.5 1184.5,321.1 1206.7,331.7C1228.9,342.2 1250.5,354.3 1273.3,363.3C1289.1,369.6 1306.8,372.1 1321.7,380.0C1333.6,386.3 1345.5,394.0 1355.0,403.3C1365.1,413.2 1373.0,425.9 1380.0,438.3C1386.0,448.9 1391.7,460.0 1395.0,471.7C1396.9,478.5 1398.0,485.5 1399.0,492.5C1401.0,506.8 1399.5,521.5 1400.2,536.0C1400.6,544.0 1401.1,552.0 1401.7,560.0C1402.6,571.1 1404.7,582.2 1405.0,593.3C1405.3,604.4 1405.0,615.7 1403.3,626.7C1401.4,639.1 1397.6,651.4 1393.3,663.3C1389.6,673.6 1385.4,683.9 1380.0,693.3C1375.6,700.9 1370.0,707.8 1365.0,715.0C1364.8,715.2 1364.7,715.5 1364.5,715.7"/>
<path d="M736.0,277.5C710.6,280.1 685.3,283.2 660.0,286.7C626.5,291.4 593.2,297.0 560.0,303.3C528.9,309.2 497.8,315.5 467.0,323.0C410.6,336.7 351.8,347.3 300.0,373.0C279.4,383.2 256.9,392.5 240.0,408.0C232.8,414.6 225.7,422.0 220.0,430.0C216.3,435.3 212.1,440.7 210.0,446.7C208.3,451.8 208.1,457.5 207.5,463.0C206.2,475.2 207.5,487.7 207.5,500.0C207.5,522.0 207.5,544.0 207.5,566.0C207.5,626.0 205.3,686.0 207.5,746.0C207.7,750.3 207.6,754.7 208.0,759.0C209.0,770.0 210.6,781.6 215.0,791.5C219.1,800.6 225.4,809.5 232.5,816.5C240.8,824.6 251.9,830.3 262.5,835.2C278.0,842.6 295.6,845.4 312.5,849.0C333.0,853.4 354.3,854.2 375.0,857.8C391.7,860.6 408.4,864.2 425.0,867.8C441.7,871.3 458.3,875.5 475.0,879.0C500.5,884.3 526.3,888.6 552.0,892.8C585.2,898.1 618.6,902.3 652.0,906.5C701.9,912.8 751.9,918.4 802.0,922.8C902.3,931.5 1003.3,933.3 1104.0,936.5C1164.4,938.4 1224.9,939.8 1285.4,940.7"/>
<path d="M737.0,292.0C711.2,306.4 685.5,321.1 660.0,336.0C635.2,350.5 609.0,363.0 586.0,380.0C574.2,388.7 563.3,398.7 552.0,408.0C531.3,425.0 509.8,441.0 490.0,459.0C476.2,471.5 463.0,484.7 450.0,498.0C441.3,506.9 432.7,515.9 424.2,525.1"/>
<path d="M752.0,295.0L594.6,430.0"/>
<path d="M789.5,295.0C789.4,315.0 789.9,335.0 791.0,355.0C792.2,376.7 794.0,398.5 797.0,420.0C799.8,440.1 803.7,460.1 808.0,480.0C812.1,498.8 816.1,517.7 822.0,536.0C827.0,551.3 831.9,566.9 839.5,581.0C845.2,591.5 851.2,602.4 859.5,611.0C863.3,614.9 867.5,618.6 872.0,621.9"/>
<path d="M787.0,295.0C785.9,315.0 785.2,335.0 785.0,355.0C784.8,376.7 785.1,398.4 786.0,420.0C786.8,440.0 787.6,460.1 790.0,480.0C792.2,498.8 795.4,517.5 799.5,536.0C804.2,557.1 809.5,578.3 817.0,598.5C823.3,615.6 830.6,632.6 839.5,648.5C846.9,661.5 855.7,673.9 864.5,686.0C875.4,700.9 886.9,715.5 899.5,729.0C915.5,746.2 933.0,762.7 952.0,776.5C971.3,790.5 992.4,803.1 1014.5,812.0C1030.1,818.3 1046.4,823.2 1063.2,826.7"/>
<path d="M827.0,295.0C875.1,325.9 925.1,352.6 977.0,375.0C1004.1,386.7 1031.9,397.4 1060.0,406.7C1087.4,415.7 1115.3,423.1 1143.3,430.0C1171.3,436.9 1199.7,442.5 1228.0,448.3C1236.8,450.1 1245.6,451.9 1254.4,453.7"/>
<path d="M843.0,278.0C872.2,280.8 901.2,284.8 930.0,290.0C958.0,295.0 985.5,302.5 1013.3,308.3C1035.5,312.9 1057.7,317.8 1080.0,321.7C1088.9,323.2 1097.9,324.2 1106.7,326.0C1129.6,330.8 1151.2,340.5 1173.3,348.3C1195.7,356.2 1217.3,366.5 1240.0,373.3C1250.5,376.4 1261.5,377.9 1271.7,381.7C1283.3,386.0 1294.6,391.7 1305.0,398.3C1317.0,405.8 1328.7,414.7 1338.3,425.0C1346.6,433.9 1354.1,444.3 1360.0,455.0C1365.3,464.7 1369.4,475.4 1372.8,486.0C1379.0,505.9 1380.9,527.6 1381.5,548.5C1382.3,573.4 1378.3,598.8 1374.0,623.5C1370.3,644.6 1365.5,665.6 1359.0,686.0C1356.0,695.5 1352.6,704.9 1348.9,714.2"/>
<path d="M842.0,291.2L1016.8,348.4"/>
<path d="M1303.5,280.0C1236.7,290.2 1170.2,301.8 1104.0,315.0C1074.1,320.9 1044.3,327.4 1014.5,333.8C985.3,339.9 956.0,345.7 927.0,352.5C885.1,362.3 843.5,373.5 802.0,385.0C757.8,397.2 714.0,411.0 670.0,424.0C650.4,429.8 630.8,435.6 611.2,441.4"/>
<path d="M1303.5,290.5L1140.9,345.2"/>
<path d="M1357.8,294.7C1354.3,315.1 1349.7,335.2 1344.0,355.0C1339.6,370.2 1334.2,385.1 1329.0,400.0C1326.0,408.7 1322.9,417.4 1319.7,426.1"/>
<path d="M1342.8,294.7C1329.4,314.5 1316.4,334.6 1304.0,355.0C1291.0,376.3 1277.9,397.8 1266.5,420.0C1256.5,439.6 1248.2,460.0 1239.0,480.0C1232.4,494.3 1225.2,508.5 1219.0,523.0C1213.7,535.5 1208.8,548.2 1204.0,561.0C1194.8,585.7 1186.4,610.7 1179.0,636.0C1170.1,666.6 1164.2,698.0 1156.5,729.0C1152.3,746.0 1147.5,762.9 1143.8,780.0C1141.6,789.8 1139.5,799.7 1137.7,809.6"/>
<path d="M1418.8,287.5C1434.4,291.9 1448.0,298.9 1459.7,308.3C1469.3,316.1 1477.7,326.4 1484.7,336.7C1493.3,349.3 1499.5,363.9 1504.7,378.3C1508.6,389.1 1512.4,400.3 1513.8,411.7C1514.6,418.4 1514.9,425.2 1514.7,432.0C1514.5,436.9 1513.9,441.8 1513.3,446.7C1511.8,459.9 1509.2,473.0 1506.5,486.0C1503.0,502.8 1497.4,519.2 1494.0,536.0C1489.9,556.6 1486.8,577.5 1485.2,598.5C1484.3,611.0 1486.1,623.8 1484.0,636.0C1482.1,647.1 1479.2,658.7 1474.0,668.5C1466.8,682.2 1453.7,693.5 1441.5,703.5C1428.8,713.8 1414.1,722.3 1399.0,729.0C1393.9,731.3 1388.7,733.3 1383.4,735.1"/>
<path d="M1418.7,289.5C1432.5,296.8 1446.3,304.1 1460.0,311.5C1479.4,322.0 1499.8,331.0 1518.0,343.3C1536.5,355.8 1552.7,371.8 1570.0,386.0C1588.7,401.3 1607.4,416.6 1626.0,432.0C1636.0,440.3 1646.0,448.7 1656.0,457.0C1670.6,469.1 1685.4,481.1 1700.0,493.3C1712.9,504.1 1725.9,514.8 1738.5,526.0C1749.9,536.1 1760.8,546.7 1772.0,557.0C1783.3,567.5 1794.3,578.4 1806.0,588.5C1812.5,594.1 1819.3,599.6 1826.0,605.0C1832.6,610.4 1840.3,614.7 1846.0,621.0C1848.5,623.8 1851.3,626.7 1853.0,630.0C1854.9,633.6 1855.8,637.9 1856.5,642.0C1857.3,646.6 1857.3,651.3 1857.2,656.0C1857.2,666.9 1853.2,677.6 1852.2,688.5C1851.1,701.9 1853.8,715.7 1852.2,729.0C1851.1,739.1 1849.4,749.5 1846.0,759.0C1841.6,771.5 1834.2,783.6 1826.0,794.0C1817.0,805.5 1805.1,815.1 1793.5,824.0C1775.0,838.1 1753.0,847.7 1732.0,857.8C1699.3,873.5 1664.7,885.9 1630.0,896.5C1589.3,908.9 1547.0,916.8 1505.0,924.0C1465.0,930.9 1424.8,936.0 1384.2,939.3"/>
<path d="M1029.5,347.5L855.4,290.4"/>
<path d="M1029.5,385.8C1012.0,390.7 994.4,394.9 976.7,398.3C954.7,402.5 932.3,405.3 910.0,407.5C893.4,409.1 876.7,410.0 860.0,410.8C840.7,411.7 821.3,411.6 802.0,412.5C777.0,413.6 751.9,414.6 727.0,417.5C706.1,420.0 685.1,423.0 664.5,427.5C646.6,431.4 628.8,436.1 611.3,441.8"/>
<path d="M1029.5,371.2C995.1,374.3 960.9,378.9 927.0,385.0C904.6,389.0 882.2,393.6 860.0,399.0C849.0,401.7 837.9,404.4 827.0,407.5C801.6,414.6 776.4,422.7 752.0,432.5C734.4,439.6 716.8,447.2 700.0,456.0C691.5,460.4 683.2,465.1 675.0,470.0C660.0,479.1 645.2,488.9 631.7,500.0C616.6,512.5 601.3,525.8 590.0,541.7C582.0,552.9 575.5,565.6 570.0,578.3C564.3,591.6 559.4,605.7 556.7,620.0C554.7,630.5 554.1,641.3 553.5,652.0C552.8,663.3 553.1,674.7 553.0,686.0C552.8,708.7 548.5,732.0 553.0,754.0C555.1,764.1 557.4,774.9 562.0,784.0C568.2,796.4 579.0,807.3 589.5,816.5C606.8,831.8 630.5,839.8 652.0,849.0C683.9,862.6 718.3,870.4 752.0,879.0C793.1,889.5 835.1,896.9 877.0,904.0C918.5,911.0 960.2,917.0 1002.0,921.5C1035.9,925.2 1070.0,927.6 1104.0,930.0C1164.4,934.3 1224.8,937.4 1285.4,939.3"/>
<path d="M1042.5,390.7C1030.7,400.2 1019.9,410.5 1010.0,421.7C1000.8,432.1 991.7,443.0 985.0,455.0C979.6,464.7 976.1,475.6 972.0,486.0C967.0,498.9 962.3,511.9 958.0,525.0C954.1,536.9 951.0,549.1 947.0,561.0C940.4,580.4 932.9,599.5 924.4,618.3"/>
<path d="M1064.0,390.7C1056.8,406.5 1049.9,422.3 1043.3,438.3C1037.6,452.1 1031.2,465.8 1026.7,480.0C1022.4,493.6 1019.1,507.6 1016.7,521.7C1015.6,528.4 1014.7,535.2 1014.0,542.0C1011.6,564.8 1012.8,588.0 1013.2,611.0C1013.7,636.0 1014.7,661.1 1017.0,686.0C1018.3,700.4 1018.1,715.3 1022.0,729.0C1025.8,742.1 1032.5,754.7 1039.5,766.5C1047.0,779.0 1055.4,791.5 1066.0,801.5C1070.9,806.1 1076.1,810.4 1081.7,814.3"/>
<path d="M1095.0,390.7C1128.1,441.3 1161.5,491.7 1195.0,542.0C1233.7,600.1 1272.7,657.9 1312.0,715.6"/>
<path d="M1128.0,388.0C1153.3,398.7 1178.7,409.3 1204.0,420.0C1221.1,427.2 1238.1,434.4 1255.2,441.5"/>
<path d="M1128.2,374.2C1170.2,379.0 1212.1,384.3 1254.0,390.0C1304.1,396.8 1354.0,405.1 1404.0,412.5C1488.0,425.0 1572.0,437.2 1656.0,449.2C1670.2,451.3 1684.4,453.3 1698.6,455.4"/>
<path d="M598.4,438.3L755.6,304.2"/>
<path d="M526.0,484.0L446.6,528.2"/>
<path d="M550.0,486.8C540.0,502.3 531.7,518.6 525.0,535.5C521.1,545.4 517.8,555.7 515.0,566.0C511.7,578.3 509.6,590.9 507.5,603.5C505.4,615.9 503.7,628.5 502.5,641.0C499.3,674.1 503.3,707.7 502.5,741.0C502.2,753.7 501.2,766.3 501.2,779.0C501.4,794.0 500.0,809.7 503.8,824.0C506.2,833.5 509.5,843.5 515.0,851.5C519.6,858.2 525.9,864.3 532.5,869.0C538.4,873.2 545.4,876.0 552.0,879.0C567.8,886.1 585.2,889.7 602.0,894.0C634.7,902.4 668.5,906.7 702.0,911.5C751.7,918.7 801.9,922.7 852.0,926.5C935.8,932.8 1020.0,932.8 1104.0,935.2C1164.5,937.0 1224.9,938.5 1285.4,939.7"/>
<path d="M598.8,485.0C621.5,497.7 644.2,510.4 667.0,523.0C731.5,558.7 794.9,596.3 861.0,629.0C862.1,629.5 863.2,630.1 864.2,630.6"/>
<path d="M598.8,476.2C640.6,492.1 682.5,507.7 724.5,523.0C750.3,532.4 776.2,541.6 802.0,551.0C852.1,569.2 902.1,587.3 952.0,606.0C1002.8,625.0 1053.3,644.8 1104.0,664.0C1142.6,678.6 1181.4,692.9 1220.0,707.5C1242.0,715.8 1264.0,724.2 1286.0,732.5"/>
<path d="M1266.5,480.0C1238.4,494.7 1210.0,509.1 1181.5,523.0C1155.8,535.6 1129.8,547.4 1104.0,559.8C1055.9,582.8 1008.0,606.3 960.2,630.1"/>
<path d="M1287.8,486.7C1281.4,498.8 1275.2,510.9 1269.0,523.0C1234.5,590.7 1199.2,658.3 1171.5,729.0C1164.9,745.9 1159.1,763.1 1152.5,780.0C1148.6,790.1 1144.5,800.2 1140.4,810.3"/>
<path d="M1299.8,486.7C1301.1,519.9 1303.3,553.0 1306.5,586.0C1309.7,619.4 1313.1,652.9 1319.0,686.0C1320.7,695.2 1322.4,704.4 1324.4,713.6"/>
<path d="M1338.5,473.0C1395.5,489.2 1452.3,505.9 1509.0,523.0C1558.1,537.8 1607.6,551.7 1656.0,568.5C1681.1,577.2 1705.9,587.0 1731.0,596.0C1753.5,604.1 1776.2,611.3 1798.5,619.8C1806.0,622.6 1814.9,623.8 1821.0,628.5C1827.8,633.8 1832.1,643.0 1836.0,651.0C1840.5,660.3 1843.5,670.8 1844.8,681.0C1845.8,689.2 1846.1,697.9 1844.8,706.0C1843.3,714.6 1839.9,723.2 1836.0,731.0C1829.1,744.6 1817.0,755.7 1806.0,766.5C1791.2,781.0 1772.5,791.3 1756.0,804.0C1748.0,810.2 1740.2,816.9 1732.0,822.8C1708.4,839.6 1681.4,851.8 1655.0,864.0C1622.7,878.9 1589.0,891.2 1555.0,901.5C1514.3,913.8 1471.8,920.6 1430.0,929.0C1414.7,932.1 1399.4,935.1 1384.1,937.9"/>
<path d="M1784.2,477.5C1800.3,484.3 1815.9,492.0 1831.0,500.5C1844.7,508.3 1858.1,516.8 1871.0,526.0C1883.1,534.6 1895.1,543.5 1906.0,553.5C1917.7,564.2 1928.6,576.1 1938.5,588.5C1949.7,602.5 1959.7,617.8 1968.5,633.5C1978.3,651.0 1986.3,669.7 1993.5,688.5C1998.6,701.8 2003.9,715.2 2007.2,729.0C2010.3,741.3 2013.4,754.0 2013.5,766.5C2013.6,780.7 2010.6,795.5 2006.0,809.0C2001.9,821.2 1995.5,833.1 1988.5,844.0C1982.0,854.2 1975.2,865.3 1966.0,872.8C1956.3,880.6 1943.0,884.6 1931.0,889.0C1907.2,897.8 1881.1,899.8 1856.0,904.0C1822.9,909.5 1789.4,913.2 1756.0,916.5C1722.7,919.8 1689.3,921.7 1656.0,924.0C1604.0,927.5 1552.0,930.1 1500.0,933.0C1461.4,935.1 1422.9,937.2 1384.3,939.3"/>
<path d="M391.0,583.0C390.3,598.2 390.3,613.4 391.0,628.5C391.9,649.4 394.0,670.4 397.5,691.0C400.6,709.5 404.4,728.1 410.0,746.0C412.9,755.4 416.3,764.8 420.0,774.0C427.0,791.2 434.5,808.7 445.0,824.0C452.3,834.7 461.0,844.6 470.0,854.0C476.3,860.6 482.5,867.8 490.0,872.8C498.9,878.7 509.7,881.9 520.0,885.2C530.4,888.6 541.3,890.5 552.0,892.8C584.9,899.7 618.6,902.3 652.0,906.5C701.9,912.8 751.9,918.4 802.0,922.8C902.3,931.5 1003.3,933.3 1104.0,936.5C1164.4,938.4 1224.9,939.8 1285.4,940.7"/>
<path d="M465.8,568.3C496.1,573.5 526.4,578.5 556.7,583.3C577.8,586.6 598.9,589.7 620.0,593.0C637.8,595.8 655.5,598.9 673.3,601.7C695.5,605.2 717.8,608.2 740.0,611.5C762.7,614.9 785.5,617.5 808.0,621.7C825.8,625.0 843.8,627.4 861.0,633.0C861.8,633.3 862.7,633.6 863.5,633.8"/>
<path d="M465.8,571.7C485.0,576.1 504.1,580.5 523.3,585.0C551.1,591.5 578.8,598.9 606.7,605.0C634.4,611.1 662.5,615.1 690.0,621.7C703.4,624.9 716.8,628.1 730.0,632.0C741.1,635.3 752.1,639.1 763.0,643.0C784.6,650.6 805.2,661.1 827.0,668.0C851.4,675.8 876.9,680.4 902.0,686.0C935.2,693.4 968.5,700.0 1002.0,706.0C1035.9,712.1 1069.9,717.2 1104.0,722.2C1142.6,728.0 1181.3,733.3 1220.0,738.0C1241.7,740.7 1263.5,743.2 1285.3,745.5"/>
<path d="M465.8,569.2C485.2,572.6 504.3,576.8 523.3,581.7C536.7,585.2 550.2,588.7 563.3,593.3C578.1,598.5 592.4,605.3 606.7,611.7C621.3,618.2 636.4,623.8 650.0,632.0C659.4,637.7 668.8,643.8 677.0,651.0C690.8,663.0 701.3,679.0 712.0,694.0C720.0,705.3 725.9,718.3 734.5,729.0C743.3,740.0 753.5,750.4 764.5,759.0C779.3,770.6 797.2,778.9 814.5,786.5C842.1,798.7 872.5,804.5 902.0,811.5C934.9,819.3 968.5,825.0 1002.0,830.0C1022.2,833.0 1042.5,835.6 1062.8,837.8"/>
<path d="M948.2,663.5C1000.1,675.7 1052.1,687.8 1104.0,699.8C1142.7,708.7 1181.3,717.8 1220.0,726.2C1241.8,731.0 1263.6,735.7 1285.5,740.2"/>
<path d="M917.0,678.7C923.9,696.8 932.6,713.5 943.2,729.0C956.0,747.6 972.5,764.1 989.5,779.0C1004.9,792.5 1021.1,806.3 1039.5,815.0C1047.2,818.6 1055.2,821.7 1063.6,824.2"/>
<path d="M915.8,678.7C919.0,695.9 923.6,712.7 929.5,729.0C933.2,739.2 937.1,749.4 942.0,759.0C948.3,771.3 956.0,783.1 964.5,794.0C975.1,807.6 987.8,819.8 1001.0,831.0C1012.4,840.7 1024.8,849.6 1037.5,857.5C1053.3,867.3 1070.4,875.1 1087.5,882.5C1103.8,889.5 1120.7,895.3 1137.5,901.0C1151.2,905.6 1165.1,910.0 1179.0,914.0C1203.7,921.0 1228.8,926.9 1254.0,931.5C1264.5,933.4 1275.0,935.1 1285.5,936.6"/>
<path d="M1687.8,669.0C1677.2,671.3 1666.6,673.7 1656.0,676.0C1577.8,693.3 1498.9,708.1 1421.5,729.0C1408.9,732.4 1396.4,735.9 1383.8,739.4"/>
<path d="M1741.0,678.7C1736.4,691.8 1730.6,704.2 1723.5,716.0C1720.8,720.4 1717.9,724.7 1715.0,729.0C1708.0,739.3 1701.3,750.4 1692.5,759.0C1681.9,769.3 1668.3,777.4 1655.0,784.0C1635.8,793.5 1613.6,796.7 1592.5,801.5C1563.8,808.0 1534.2,811.0 1505.0,815.2C1463.4,821.3 1421.8,827.2 1380.0,831.5C1318.9,837.8 1257.6,841.9 1196.1,843.6"/>
<path d="M1747.2,678.7C1746.2,691.4 1744.1,703.8 1741.0,716.0C1739.9,720.4 1738.9,724.8 1737.2,729.0C1735.8,732.8 1733.8,736.4 1732.0,740.0C1727.5,749.0 1723.2,758.3 1717.5,766.5C1704.9,784.7 1685.3,798.2 1667.5,811.5C1634.0,836.5 1593.4,851.7 1555.0,869.0C1522.3,883.7 1488.6,896.3 1455.0,909.0C1431.3,918.0 1407.5,926.6 1383.5,935.0"/>
<path d="M1298.5,740.6C1272.3,734.8 1246.1,729.0 1220.0,723.0C1181.3,714.2 1142.7,704.7 1104.0,696.0C1056.5,685.3 1008.9,675.0 961.3,665.1"/>
<path d="M1337.8,726.7C1336.9,687.9 1334.0,649.3 1329.0,611.0C1325.7,585.9 1319.7,561.1 1316.5,536.0C1315.0,524.0 1313.6,512.0 1312.5,499.9"/>
<path d="M1299.0,765.2L1184.9,817.2"/>
<path d="M1334.5,774.7L1334.5,905.4"/>
<path d="M1084.5,822.7C1073.1,819.1 1062.2,814.6 1052.0,809.0C1033.4,798.9 1017.2,783.8 1002.0,769.0C989.4,756.7 977.7,743.1 967.0,729.0C957.5,716.5 948.7,703.4 940.7,689.8"/>
<path d="M1145.2,822.7C1160.6,791.6 1175.6,760.4 1190.2,729.0C1225.7,653.2 1259.4,576.5 1291.1,498.9"/>
<path d="M1182.8,825.2L1285.7,777.6"/>
<path d="M1182.8,870.7L1287.0,920.3"/>
</g>
<g fill="black" stroke="black" stroke-width="1.33">
<polygon points="1062.4,847.3 1076.0,843.5 1063.0,838.0"/>
<polygon points="325.0,533.0 339.0,534.7 329.1,524.6"/>
<polygon points="527.7,431.2 539.7,438.7 535.0,425.4"/>
<polygon points="575.1,159.8 562.7,166.5 576.6,169.0"/>
<polygon points="802.2,232.6 799.5,246.5 810.3,237.4"/>
<polygon points="905.8,617.5 910.8,630.7 915.1,617.3"/>
<polygon points="1079.0,328.9 1082.0,342.7 1088.3,330.1"/>
<polygon points="1281.1,429.0 1291.3,438.7 1289.4,424.7"/>
<polygon points="1315.5,242.7 1329.0,246.7 1320.9,235.1"/>
<polygon points="1692.0,83.4 1705.3,78.7 1692.0,74.0"/>
<polygon points="1406.0,167.5 1420.0,165.5 1407.8,158.3"/>
<polygon points="1384.1,936.7 1371.0,942.0 1384.5,946.0"/>
<polygon points="1800.5,619.2 1792.2,630.7 1805.8,626.8"/>
<polygon points="1750.7,424.9 1753.5,438.7 1760.0,426.1"/>
<polygon points="1381.8,732.4 1371.0,741.5 1385.1,741.1"/>
<polygon points="562.5,424.7 564.6,438.7 571.7,426.5"/>
<polygon points="1502.9,151.3 1491.7,160.0 1505.8,160.2"/>
<polygon points="1195.7,831.9 1182.8,837.5 1196.4,841.2"/>
<polygon points="1384.1,937.8 1371.0,943.0 1384.5,947.2"/>
<polygon points="1384.0,744.0 1371.0,749.5 1384.6,753.3"/>
<polygon points="1694.9,101.2 1706.0,92.5 1691.9,92.3"/>
<polygon points="405.0,520.8 402.5,534.7 413.1,525.4"/>
<polygon points="572.7,424.6 571.9,438.7 581.4,428.2"/>
<polygon points="855.2,253.5 842.7,260.0 856.6,262.7"/>
<polygon points="909.3,617.1 913.0,630.7 918.6,617.7"/>
<polygon points="1390.9,233.9 1385.0,246.7 1397.6,240.4"/>
<polygon points="1332.8,425.7 1327.2,438.7 1339.7,432.0"/>
<polygon points="1382.8,733.2 1371.0,741.0 1385.1,742.3"/>
<polygon points="1194.7,828.4 1182.8,836.0 1196.8,837.5"/>
<polygon points="1743.6,425.7 1749.0,438.7 1752.9,425.1"/>
<polygon points="1384.1,934.7 1371.0,940.0 1384.5,944.0"/>
<polygon points="1285.3,946.4 1298.7,942.0 1285.5,937.1"/>
<polygon points="1062.4,844.7 1076.0,841.0 1063.0,835.4"/>
<polygon points="326.0,529.3 339.0,534.7 332.2,522.3"/>
<polygon points="862.1,645.3 876.2,645.0 865.0,636.4"/>
<polygon points="548.2,426.9 556.0,438.7 557.2,424.6"/>
<polygon points="721.6,252.6 735.8,252.5 724.7,243.7"/>
<polygon points="1263.0,434.1 1276.3,438.7 1268.8,426.8"/>
<polygon points="1360.6,713.1 1356.9,726.7 1368.3,718.4"/>
<polygon points="1285.3,945.4 1298.7,941.0 1285.5,936.0"/>
<polygon points="420.8,521.8 415.0,534.7 427.6,528.3"/>
<polygon points="591.6,426.5 584.5,438.7 597.7,433.6"/>
<polygon points="868.9,625.4 882.0,630.7 875.0,618.4"/>
<polygon points="1061.9,831.1 1076.0,830.5 1064.6,822.2"/>
<polygon points="1253.5,458.2 1267.5,456.3 1255.4,449.1"/>
<polygon points="1344.5,712.6 1344.4,726.7 1353.3,715.7"/>
<polygon points="1015.4,352.8 1029.5,352.5 1018.3,343.9"/>
<polygon points="609.9,436.9 598.4,445.2 612.5,445.9"/>
<polygon points="1139.4,340.8 1128.2,349.5 1142.4,349.7"/>
<polygon points="1315.3,424.6 1315.3,438.7 1324.2,427.7"/>
<polygon points="1133.1,808.7 1135.0,822.7 1142.3,810.6"/>
<polygon points="1381.7,730.8 1371.0,740.0 1385.1,739.5"/>
<polygon points="1383.6,934.7 1371.0,941.0 1384.8,944.0"/>
<polygon points="856.8,286.0 842.7,286.2 853.9,294.8"/>
<polygon points="610.1,437.2 598.4,445.2 612.5,446.3"/>
<polygon points="1285.1,944.0 1298.7,940.0 1285.6,934.7"/>
<polygon points="920.0,616.6 919.5,630.7 928.7,620.0"/>
<polygon points="1078.7,817.9 1092.0,822.7 1084.6,810.7"/>
<polygon points="1308.1,718.3 1319.4,726.7 1315.8,713.0"/>
<polygon points="1253.4,445.8 1267.5,446.7 1257.0,437.2"/>
<polygon points="1697.9,460.0 1711.8,457.2 1699.2,450.7"/>
<polygon points="758.6,307.7 765.8,295.5 752.6,300.6"/>
<polygon points="444.4,524.1 435.0,534.7 448.9,532.3"/>
<polygon points="1285.3,944.3 1298.7,940.0 1285.5,935.0"/>
<polygon points="862.2,634.8 876.2,636.5 866.3,626.4"/>
<polygon points="1284.4,736.9 1298.5,737.2 1287.7,728.2"/>
<polygon points="958.2,625.9 948.2,636.0 962.3,634.3"/>
<polygon points="1136.1,808.6 1135.5,822.7 1144.8,812.0"/>
<polygon points="1319.8,714.5 1326.9,726.7 1328.9,712.7"/>
<polygon points="1383.2,933.4 1371.0,940.5 1385.0,942.5"/>
<polygon points="1384.1,934.6 1371.0,940.0 1384.6,943.9"/>
<polygon points="1285.3,945.4 1298.7,941.0 1285.5,936.0"/>
<polygon points="862.1,638.3 876.2,638.0 865.0,629.4"/>
<polygon points="1284.7,750.1 1298.5,747.0 1285.8,740.8"/>
<polygon points="1062.2,842.4 1076.0,839.5 1063.4,833.2"/>
<polygon points="1284.5,744.8 1298.5,743.0 1286.4,735.7"/>
<polygon points="1061.9,828.6 1076.0,829.0 1065.2,819.9"/>
<polygon points="1284.8,941.2 1298.7,938.8 1286.3,932.0"/>
<polygon points="1382.6,734.9 1371.0,743.0 1385.1,743.9"/>
<polygon points="1195.7,839.0 1182.8,844.5 1196.4,848.3"/>
<polygon points="1381.9,930.6 1371.0,939.5 1385.1,939.3"/>
<polygon points="962.3,660.5 948.2,662.2 960.3,669.6"/>
<polygon points="1317.1,499.4 1311.0,486.7 1307.8,500.5"/>
<polygon points="1182.9,812.9 1172.8,822.7 1186.8,821.4"/>
<polygon points="1329.8,905.4 1334.5,918.7 1339.2,905.4"/>
<polygon points="944.6,687.2 933.2,678.7 936.8,692.4"/>
<polygon points="1295.4,500.8 1296.5,486.7 1286.9,497.0"/>
<polygon points="1287.6,781.8 1297.8,772.0 1283.7,773.4"/>
<polygon points="1285.0,924.5 1299.0,926.0 1289.0,916.1"/>
</g>
<text x="1686.5" y="74" class="t">5</text>
<text x="1684.75" y="94.5" class="t">2</text>
<text x="1511.7" y="167" class="t">2</text>
<text x="1403.8" y="155.8" class="t">2</text>
<text x="581.5" y="175" class="t">2</text>
<text x="815.75" y="237.5" class="t">1</text>
<text x="721.5" y="242" class="t">8</text>
<text x="862" y="269.25" class="t">1</text>
<text x="858.25" y="303" class="t">1</text>
<text x="748.25" y="303.75" class="t">3</text>
<text x="1318.5" y="231.75" class="t">2</text>
<text x="1404.2" y="242" class="t">1</text>
<text x="1092.5" y="328.7" class="t">1</text>
<text x="1148.3" y="355" class="t">1</text>
<text x="1014.2" y="342" class="t">1</text>
<text x="533.2" y="422.4" class="t">10</text>
<text x="559.3" y="422" class="t">11</text>
<text x="571.1" y="425.6" class="t">3</text>
<text x="577.6" y="425.6" class="t">4</text>
<text x="587.8" y="428.1" class="t">55</text>
<text x="604.1" y="435.8" class="t">2</text>
<text x="618.4" y="449.7" class="t">4</text>
<text x="324.25" y="521.25" class="t">1</text>
<text x="328.75" y="521.25" class="t">3</text>
<text x="418.75" y="525" class="t">12</text>
<text x="433.75" y="529.25" class="t">7</text>
<text x="455" y="535.5" class="t">2</text>
<text x="1266.3" y="423.3" class="t">8</text>
<text x="1289.7" y="421.7" class="t">1</text>
<text x="1330.8" y="428.3" class="t">2</text>
<text x="1346.2" y="433.3" class="t">9</text>
<text x="1253.8" y="435.3" class="t">13</text>
<text x="1249.2" y="447.5" class="t">6</text>
<text x="1282" y="504" class="t">5</text>
<text x="1306" y="509" class="t">1</text>
<text x="1756.75" y="425" class="t">1</text>
<text x="1766" y="425" class="t">2</text>
<text x="1696" y="450" class="t">16</text>
<text x="1812.25" y="629.5" class="t">1</text>
<text x="874.6" y="614.6" class="t">50</text>
<text x="863" y="622" class="t">1</text>
<text x="861.5" y="627" class="t">11</text>
<text x="859.7" y="635.3" class="t">5</text>
<text x="920.2" y="615.9" class="t">66</text>
<text x="935.3" y="617.9" class="t">236</text>
<text x="968.3" y="639.9" class="t">1</text>
<text x="964.5" y="677.25" class="t">17</text>
<text x="935.75" y="702.5" class="t">17</text>
<text x="1315" y="710" class="t">70</text>
<text x="1331.25" y="710" class="t">26</text>
<text x="1358.75" y="715" class="t">265</text>
<text x="1375" y="720.6" class="t">33</text>
<text x="1285" y="725" class="t">5</text>
<text x="1282.5" y="733" class="t">17</text>
<text x="1280.6" y="738" class="t">56</text>
<text x="1391.25" y="744.4" class="t">10</text>
<text x="1390" y="744.4" class="t">30</text>
<text x="1390.6" y="750" class="t">21</text>
<text x="1389" y="750" class="t">3</text>
<text x="1388.75" y="759.4" class="t">2</text>
<text x="1278" y="773.75" class="t">39</text>
<text x="1082.5" y="808" class="t">44</text>
<text x="1060.75" y="821" class="t">38</text>
<text x="1063" y="817" class="t">8</text>
<text x="1058" y="833" class="t">5</text>
<text x="1058" y="838" class="t">4</text>
<text x="1059" y="836" class="t">1</text>
<text x="1201.5" y="843" class="t">6</text>
<text x="1200.25" y="855.5" class="t">4</text>
<text x="1200" y="849" class="t">1</text>
<text x="1146" y="810.25" class="t">16</text>
<text x="1146.5" y="810.5" class="t">19</text>
<text x="1192.75" y="826" class="t">2</text>
<text x="1343.5" y="904" class="t">120</text>
<text x="1284.75" y="913.5" class="t">94</text>
<text x="1281.5" y="929" class="t">23</text>
<text x="1282" y="935.25" class="t">128</text>
<text x="1283" y="935.25" class="t">177</text>
<text x="1281" y="935.5" class="t">260</text>
<text x="1284" y="935" class="t">55</text>
<text x="1391.5" y="943" class="t">10</text>
<text x="1390" y="953" class="t">227</text>
<text x="1391" y="952.5" class="t">139</text>
<text x="1389" y="953" class="t">251</text>
<text x="1392" y="953" class="t">80</text>
</svg>
</body></html>
